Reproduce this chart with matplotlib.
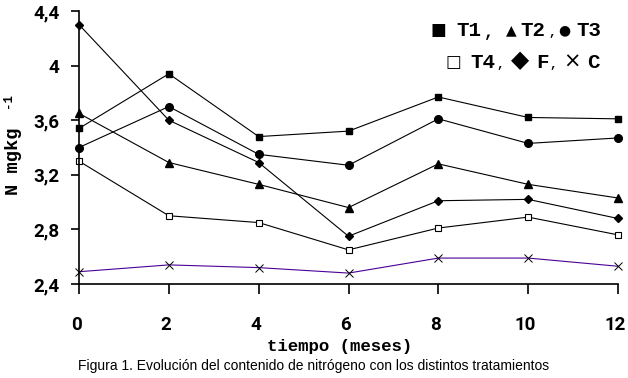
import matplotlib
matplotlib.use("Agg")
import matplotlib.pyplot as plt
import matplotlib.transforms as mtransforms

meses = [0, 2, 4, 6, 8, 10, 12]
T1 = [3.54, 3.94, 3.48, 3.52, 3.77, 3.62, 3.61]
T2 = [3.65, 3.29, 3.13, 2.96, 3.28, 3.13, 3.03]
T3 = [3.40, 3.70, 3.35, 3.27, 3.61, 3.43, 3.47]
T4 = [3.30, 2.90, 2.85, 2.65, 2.81, 2.89, 2.76]
F = [4.30, 3.60, 3.29, 2.75, 3.01, 3.02, 2.88]
C = [2.49, 2.54, 2.52, 2.48, 2.59, 2.59, 2.53]
yticks = [2.4, 2.8, 3.2, 3.6, 4.0, 4.4]
ytick_labels = ["2,4", "2,8", "3,2", "3,6", "4", "4,4"]
xticks = [0, 2, 4, 6, 8, 10, 12]

W, H = 628, 378
fig = plt.figure(figsize=(W / 100, H / 100), dpi=100)
ax = fig.add_axes([79 / W, 1 - 284 / H, (618 - 79) / W, (284 - 11) / H])

lw = 0.8
ax.plot(meses, T1, color="black", lw=lw, marker="s", ms=5, clip_on=False)
ax.plot(meses, T2, color="black", lw=lw, marker="^", ms=6, clip_on=False)
ax.plot(meses, T3, color="black", lw=lw, marker="o", ms=5.5, clip_on=False)
ax.plot(meses, T4, color="black", lw=lw, marker="s", ms=5, mfc="white", mew=0.8, clip_on=False)
ax.plot(meses, F, color="black", lw=lw, marker="D", ms=4, clip_on=False)
ax.plot(meses, C, color="#4b0096", lw=lw, marker="x", ms=6, mec="black", mew=0.7, clip_on=False)

ax.set_xlim(0, 12)
ax.set_ylim(2.4, 4.4)
for s in ["top", "right"]:
    ax.spines[s].set_visible(False)
ax.spines["left"].set_linewidth(1.2)
ax.spines["bottom"].set_linewidth(1.2)
ax.set_yticks(yticks)
ax.set_yticklabels(ytick_labels)
ax.set_xticks(xticks)
ax.set_xticklabels([str(v) for v in xticks])
ax.tick_params(axis="y", direction="out", length=6, width=1.2, pad=8)
ax.tick_params(axis="x", direction="out", length=7, width=1.2, pad=16)
shift = mtransforms.ScaledTranslation(-3 / 100, 0, fig.dpi_scale_trans)
for lab in ax.get_yticklabels() + ax.get_xticklabels():
    lab.set_fontfamily("Roboto")
    lab.set_fontweight("bold")
    lab.set_fontsize(13.5)
for lab in ax.get_xticklabels():
    lab.set_transform(lab.get_transform() + shift)

mono = dict(family="Liberation Mono", weight="bold")
fig.text(340 / W, 1 - 346 / H, "tiempo (meses)", ha="center", va="center", fontsize=12.5, **mono)
fig.text(14 / W, 1 - 161 / H, "N mgkg", ha="center", va="center", rotation=90, fontsize=13.5, **mono)
fig.text(8 / W, 1 - 100 / H, "-1", ha="center", va="center", rotation=90, fontsize=9, **mono)

fig.text(314 / W, 1 - 366 / H,
         "Figura 1. Evolución del contenido de nitrógeno con los distintos tratamientos",
         ha="center", va="center", fontsize=10, family="Liberation Sans")

# legend as text
def t(x, y, s, size=15, fam=None, **kw):
    d = dict(mono)
    if fam:
        d = dict(family=fam, weight="normal")
    d.update(kw)
    fig.text(x / W, 1 - y / H, s, ha="center", va="center", fontsize=size, **d)

t(438.5, 30, "■", 12, fam="DejaVu Sans")
t(469, 30, "T1", 15)
t(489, 33, ",", 12)
t(511, 30, "▲", 10, fam="DejaVu Sans")
t(533, 30, "T2", 15)
t(552, 33, ",", 9)
t(564, 30, "●", 10, fam="DejaVu Sans")
t(589, 30, "T3", 15)

t(453, 62, "□", 12, fam="DejaVu Sans")
t(483, 62, "T4", 15)
t(500, 65, ",", 9)
t(520, 60, "◆", 17, fam="DejaVu Sans")
t(542, 62, "F", 15)
t(553, 65, ",", 9)
t(572, 62, "×", 15, fam="DejaVu Sans")
t(593, 62, "C", 15)

fig.savefig("out.png", dpi=100)
